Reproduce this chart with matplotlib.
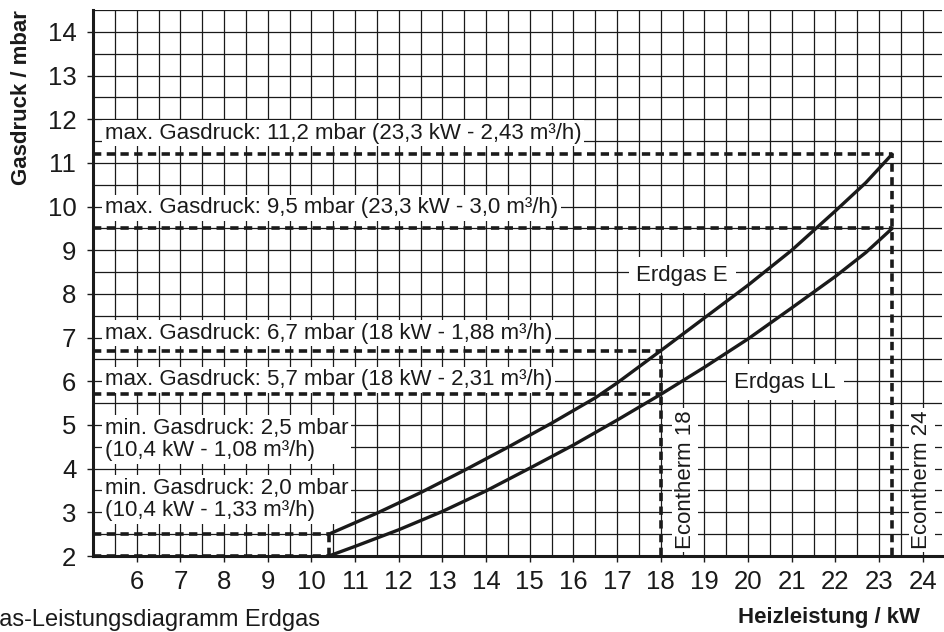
import matplotlib.pyplot as plt
import numpy as np

plt.rcParams["font.family"] = ["Liberation Sans", "DejaVu Sans"]

# Kennlinien
erdgas_e_kw = [10.4, 11.5, 12.5, 13.5, 14.5, 15.5, 16.5, 17.0, 18.0, 19.0, 20.0, 21.0, 22.0, 22.7, 23.3]
erdgas_e_mbar = [2.5, 2.98, 3.45, 3.96, 4.49, 5.04, 5.62, 5.96, 6.7, 7.45, 8.2, 9.0, 9.9, 10.55, 11.2]
erdgas_ll_kw = [10.4, 11.0, 12.0, 13.0, 14.0, 15.0, 16.0, 17.0, 18.0, 19.0, 20.0, 21.0, 22.0, 22.7, 23.3]
erdgas_ll_mbar = [2.0, 2.22, 2.6, 3.02, 3.49, 4.01, 4.54, 5.11, 5.7, 6.32, 6.97, 7.68, 8.4, 8.95, 9.5]

# Grenzwerte: (Druck, Leistung)
max_points = [(11.2, 23.3), (9.5, 23.3), (6.7, 18.0), (5.7, 18.0)]
min_points = [(2.5, 10.4), (2.0, 10.4)]

labels = [
    "max. Gasdruck: 11,2 mbar (23,3 kW - 2,43 m³/h)",
    "max. Gasdruck: 9,5 mbar (23,3 kW - 3,0 m³/h)",
    "max. Gasdruck: 6,7 mbar (18 kW - 1,88 m³/h)",
    "max. Gasdruck: 5,7 mbar (18 kW - 2,31 m³/h)",
    "min. Gasdruck: 2,5 mbar\n(10,4 kW - 1,08 m³/h)",
    "min. Gasdruck: 2,0 mbar\n(10,4 kW - 1,33 m³/h)",
]
label_y = [11.68, 9.97, 7.1, 6.03, 4.67, 3.29]

x_min, x_max = 5.0, 24.45
y_min, y_max = 2.0, 14.5

fig = plt.figure(figsize=(9.44, 6.32), dpi=100)
ax = fig.add_axes([93 / 944, 1 - 556 / 632, (x_max - x_min) * 43.67 / 944, 546 / 632])

ax.set_xlim(x_min, x_max)
ax.set_ylim(y_min, y_max)
ax.set_xticks(np.arange(6, 25))
ax.set_yticks(np.arange(2, 15))
ax.set_xticks(np.arange(5.5, 24.5, 0.5), minor=True)
ax.set_yticks(np.arange(2.5, 14.6, 0.5), minor=True)
ax.grid(True, which="both", color="#1a1a1a", linewidth=0.9)
ax.set_axisbelow(True)
ax.tick_params(which="major", direction="out", length=4, width=1, labelsize=18.5, pad=6, colors="#1a1a1a")
ax.tick_params(which="minor", length=0)
ax.tick_params(axis="y", pad=8)

for side in ["top", "right"]:
    ax.spines[side].set_visible(False)
for side in ["left", "bottom"]:
    ax.spines[side].set_linewidth(2.2)
    ax.spines[side].set_color("#1a1a1a")

dash = (0, (2.3, 1.5))
dkw = dict(color="#1a1a1a", linewidth=2.6, linestyle=dash, zorder=3, clip_on=False)
for p, kw in max_points + min_points:
    ax.plot([x_min, kw], [p, p], **dkw)
ax.plot([23.3, 23.3], [y_min, 11.2], **dkw)
ax.plot([18.0, 18.0], [y_min, 6.7], **dkw)
ax.plot([10.4, 10.4], [y_min, 2.5], **dkw)

ax.plot(erdgas_e_kw, erdgas_e_mbar, color="#1a1a1a", linewidth=2.4, zorder=4, solid_capstyle="round")
ax.plot(erdgas_ll_kw, erdgas_ll_mbar, color="#1a1a1a", linewidth=2.4, zorder=4, solid_capstyle="round")

box = dict(facecolor="white", edgecolor="none", pad=2)
for txt, y in zip(labels, label_y):
    ax.text(5.27, y, txt, fontsize=16, ha="left", va="center", color="#1a1a1a",
            bbox=box, zorder=2, linespacing=1.1)

wide_box = dict(facecolor="white", edgecolor="none", boxstyle="square,pad=0.35")
ax.text(18.49, 8.43, "Erdgas E", fontsize=16, ha="center", va="center", color="#1a1a1a", bbox=wide_box, zorder=2)
ax.text(20.85, 5.98, "Erdgas LL", fontsize=16, ha="center", va="center", color="#1a1a1a", bbox=wide_box, zorder=2)
ax.text(18.56, 3.74, "Econtherm 18", fontsize=16, rotation=90, ha="center", va="center", color="#1a1a1a", bbox=box, zorder=2)
ax.text(23.98, 3.74, "Econtherm 24", fontsize=16, rotation=90, ha="center", va="center", color="#1a1a1a", bbox=box, zorder=2)

fig.text(22 / 944, 1 - 98 / 632, "Gasdruck / mbar", rotation=90, fontsize=16, fontweight="bold",
         ha="center", va="center", color="#1a1a1a")
fig.text(920 / 944, 1 - 617 / 632, "Heizleistung / kW", fontsize=16, fontweight="bold",
         ha="right", va="center", color="#1a1a1a")
fig.text(-19 / 944, 6 / 632, "Gas-Leistungsdiagramm Erdgas", fontsize=17,
         ha="left", va="baseline", color="#1a1a1a")

fig.savefig("out.png", dpi=100)
